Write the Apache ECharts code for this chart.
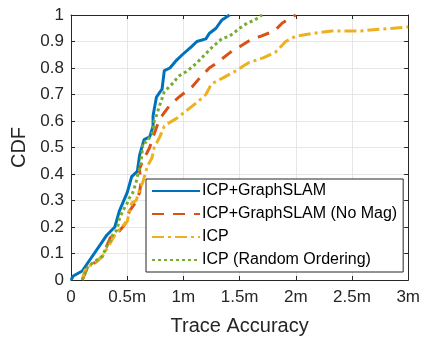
<!DOCTYPE html>
<html>
<head>
<meta charset="utf-8">
<script src="https://cdn.jsdelivr.net/npm/echarts@6/dist/echarts.min.js"></script>
<style>
  html, body { margin: 0; padding: 0; background: #fff; }
  #chart { width: 423px; height: 341px; }
</style>
</head>
<body>
<div id="chart"></div>
<script>
// trace accuracy (m) and CDF per method
const slamX = [0, 0.02, 0.10, 0.32, 0.39, 0.43, 0.46, 0.50, 0.54, 0.59, 0.61, 0.63, 0.65, 0.70, 0.73, 0.73, 0.76, 0.81, 0.83, 0.88, 0.94, 0.99, 1.07, 1.12, 1.20, 1.23, 1.29, 1.34, 1.41];
const slamY = [0, 0.015, 0.034, 0.17, 0.20, 0.26, 0.29, 0.33, 0.39, 0.41, 0.47, 0.50, 0.53, 0.54, 0.58, 0.62, 0.69, 0.72, 0.79, 0.80, 0.83, 0.85, 0.88, 0.90, 0.91, 0.93, 0.95, 0.98, 1.0];

const noMagX = [0.10, 0.15, 0.23, 0.28, 0.31, 0.35, 0.42, 0.48, 0.52, 0.57, 0.61, 0.62, 0.61, 0.64, 0.70, 0.73, 0.79, 0.81, 0.88, 0.96, 1.08, 1.14, 1.23, 1.30, 1.42, 1.50, 1.61, 1.69, 1.81, 1.88, 2.0];
const noMagY = [0, 0.05, 0.07, 0.09, 0.12, 0.16, 0.18, 0.21, 0.26, 0.29, 0.33, 0.36, 0.42, 0.45, 0.50, 0.54, 0.61, 0.62, 0.66, 0.69, 0.73, 0.76, 0.80, 0.82, 0.86, 0.88, 0.91, 0.92, 0.94, 0.97, 1.0];

const icpX = [0.10, 0.12, 0.15, 0.23, 0.28, 0.35, 0.39, 0.45, 0.50, 0.52, 0.54, 0.58, 0.61, 0.64, 0.68, 0.72, 0.74, 0.79, 0.83, 0.86, 0.94, 1.03, 1.12, 1.20, 1.25, 1.34, 1.47, 1.58, 1.72, 1.82, 1.91, 2.00, 2.14, 2.32, 2.58, 3.0];
const icpY = [0, 0.034, 0.05, 0.07, 0.09, 0.14, 0.17, 0.20, 0.22, 0.26, 0.29, 0.30, 0.34, 0.37, 0.43, 0.46, 0.50, 0.54, 0.58, 0.59, 0.61, 0.64, 0.67, 0.70, 0.74, 0.76, 0.79, 0.82, 0.84, 0.86, 0.90, 0.92, 0.93, 0.94, 0.94, 0.955];

const randX = [0.10, 0.15, 0.21, 0.28, 0.32, 0.35, 0.37, 0.41, 0.43, 0.46, 0.50, 0.52, 0.55, 0.58, 0.59, 0.61, 0.63, 0.64, 0.67, 0.72, 0.73, 0.74, 0.76, 0.79, 0.83, 0.90, 0.96, 1.04, 1.12, 1.19, 1.26, 1.34, 1.41, 1.50, 1.57, 1.63, 1.70];
const randY = [0, 0.05, 0.07, 0.09, 0.13, 0.15, 0.17, 0.19, 0.23, 0.26, 0.29, 0.31, 0.33, 0.37, 0.39, 0.42, 0.47, 0.52, 0.52, 0.55, 0.57, 0.60, 0.62, 0.66, 0.71, 0.74, 0.77, 0.79, 0.82, 0.85, 0.88, 0.91, 0.92, 0.95, 0.97, 0.98, 1.0];

const names = ['ICP+GraphSLAM', 'ICP+GraphSLAM (No Mag)', 'ICP', 'ICP (Random Ordering)'];
const xTicks = ['0', '0.5m', '1m', '1.5m', '2m', '2.5m', '3m'];

const zip = (xs, ys) => xs.map((x, i) => [x, ys[i]]);

const chart = echarts.init(document.getElementById('chart'));

const font = 'Liberation Sans, Arial, sans-serif';
const frame = { lineStyle: { color: '#262626', width: 1 } };

function line(name, data, color, type) {
  return {
    name: name,
    type: 'line',
    data: data,
    symbol: 'none',
    animation: false,
    lineStyle: { color: color, width: 3, type: type, cap: 'butt' },
    itemStyle: { color: color },
  };
}

chart.setOption({
  animation: false,
  grid: { left: 71, right: 14, top: 15, bottom: 60, show: false },
  xAxis: [
    {
      type: 'value',
      min: 0,
      max: 3,
      interval: 0.5,
      position: 'bottom',
      axisLine: { show: true, onZero: false, ...frame },
      axisTick: { inside: true, length: 4, lineStyle: { color: '#262626' } },
      axisLabel: {
        color: '#262626', fontSize: 17, fontFamily: font, margin: 9,
        formatter: (v) => xTicks[Math.round(v / 0.5)],
      },
      splitLine: { show: true, lineStyle: { color: '#e6e6e6', width: 1 } },
      name: 'Trace Accuracy',
      nameLocation: 'middle',
      nameGap: 36,
      nameTextStyle: { color: '#262626', fontSize: 20, fontFamily: font },
    },
    {
      type: 'value',
      min: 0,
      max: 3,
      interval: 0.5,
      position: 'top',
      axisLine: { show: true, onZero: false, ...frame },
      axisTick: { inside: true, length: 4, lineStyle: { color: '#262626' } },
      axisLabel: { show: false },
      splitLine: { show: false },
    },
  ],
  yAxis: [
    {
      type: 'value',
      min: 0,
      max: 1,
      interval: 0.1,
      position: 'left',
      axisLine: { show: true, onZero: false, ...frame },
      axisTick: { inside: true, length: 4, lineStyle: { color: '#262626' } },
      axisLabel: {
        color: '#262626', fontSize: 17, fontFamily: font, margin: 7,
        formatter: (v) => String(Math.round(v * 10) / 10),
      },
      splitLine: { show: true, lineStyle: { color: '#e6e6e6', width: 1 } },
      name: 'CDF',
      nameLocation: 'middle',
      nameGap: 37,
      nameTextStyle: { color: '#262626', fontSize: 20, fontFamily: font },
    },
    {
      type: 'value',
      min: 0,
      max: 1,
      interval: 0.1,
      position: 'right',
      axisLine: { show: true, onZero: false, ...frame },
      axisTick: { inside: true, length: 4, lineStyle: { color: '#262626' } },
      axisLabel: { show: false },
      splitLine: { show: false },
    },
  ],
  legend: {
    data: names,
    orient: 'vertical',
    left: 146,
    top: 179,
    padding: [4, 6, 4, 5],
    itemGap: 7,
    itemWidth: 48,
    itemHeight: 16,
    backgroundColor: '#fff',
    borderColor: '#262626',
    borderWidth: 1,
    borderRadius: 0,
    itemStyle: { opacity: 0 },
    textStyle: { color: '#000', fontSize: 16, fontFamily: font, padding: [0, 0, 0, -3] },
  },
  series: [
    line(names[0], zip(slamX, slamY), '#0072BD', 'solid'),
    line(names[1], zip(noMagX, noMagY), '#D95319', [12, 9]),
    line(names[2], zip(icpX, icpY), '#EDB120', [12, 4, 3, 4]),
    line(names[3], zip(randX, randY), '#77AC30', [3, 3]),
  ],
});
</script>
</body>
</html>
